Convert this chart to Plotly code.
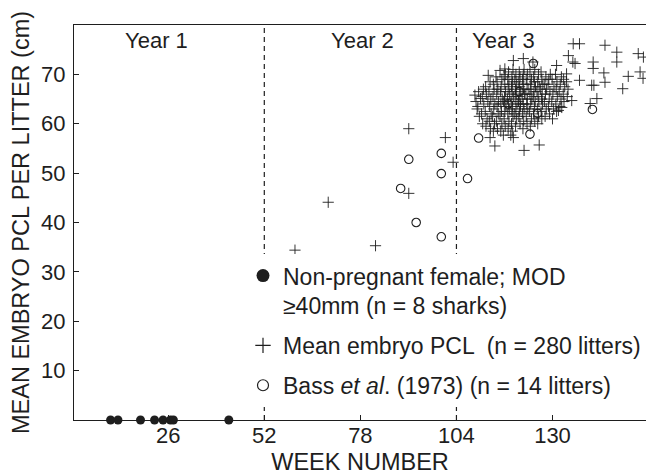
import plotly.graph_objects as go

# ---------------- data ----------------
x_ticks = [26, 52, 78, 104, 130]
y_ticks = [10, 20, 30, 40, 50, 60, 70]
year_boundaries = [52, 104]
year_labels = ["Year 1", "Year 2", "Year 3"]
year_label_weeks = [22.7, 78.7, 116.8]

# Non-pregnant females with MOD >= 40 mm (PCL plotted at 0)
nonpreg_week = [10.4, 12.4, 18.5, 22.3, 24.6, 26.6, 27.4, 42.4]
nonpreg_pcl = [0, 0, 0, 0, 0, 0, 0, 0]

# Bass et al. (1973)
bass_week = [91.1, 99.9, 99.9, 88.9, 93.1, 99.9, 107.0, 110.0, 123.9, 126.0, 124.8, 140.8, 118.0, 121.0]
bass_pcl = [52.8, 54.0, 49.9, 46.9, 40.0, 37.1, 48.9, 57.1, 57.9, 62.1, 72.2, 62.9, 64.0, 66.5]

# Mean embryo PCL - year 2 litters
emb_y2_week = [60.3, 69.3, 82.1, 91.1, 91.1, 101.0, 103.1]
emb_y2_pcl = [34.4, 44.1, 35.3, 45.9, 59.0, 57.2, 52.2]

# Mean embryo PCL - dense year 3 cluster
emb_cl_week = [
    109.3, 109.0, 109.6,
    110.2, 109.8, 110.5, 110.0,
    111.1, 110.8, 111.4, 111.0, 111.3,
    112.0, 112.3, 111.8, 112.5, 112.1, 111.9,
    113.2, 112.9, 113.4, 113.0, 113.3, 112.8, 113.1,
    114.0, 114.3, 113.8, 114.1, 114.4, 113.9, 114.2, 114.0,
    115.1, 114.8, 115.3, 115.0, 115.4, 114.9, 115.2, 115.0, 114.7,
    116.0, 116.3, 115.8, 116.2, 116.0, 116.4, 115.9, 116.1, 116.3,
    117.2, 116.9, 117.1, 117.4, 116.8, 117.0, 117.3, 117.1, 116.9, 117.2,
    118.0, 118.2, 117.9, 118.3, 118.1, 117.8, 118.4, 118.0, 118.2, 117.9, 118.1,
    119.1, 118.9, 119.3, 119.0, 119.2, 118.8, 119.4, 119.1, 118.9, 119.2, 119.0, 119.3,
    120.0, 120.3, 119.8, 120.1, 120.4, 119.9, 120.2, 120.0, 120.3, 119.8, 120.1,
    121.2, 120.9, 121.1, 121.3, 120.8, 121.0, 121.4, 121.1, 120.9, 121.2, 121.0, 121.3,
    122.0, 122.2, 121.9, 122.3, 122.1, 121.8, 122.4, 122.0, 122.2, 121.9, 122.1, 122.3,
    123.1, 122.9, 123.3, 123.0, 123.2, 122.8, 123.4, 123.1, 122.9, 123.2,
    124.0, 124.3, 123.8, 124.1, 124.4, 123.9, 124.2, 124.0, 124.3, 123.9,
    125.2, 124.9, 125.1, 125.3, 124.8, 125.0, 125.4, 125.1, 124.9, 125.2,
    126.0, 126.2, 125.9, 126.3, 126.1, 125.8, 126.4, 126.0, 126.2,
    127.1, 126.9, 127.3, 127.0, 127.2, 126.8, 127.4, 127.1, 126.9,
    128.0, 128.3, 127.8, 128.1, 128.4, 127.9, 128.2,
    129.2, 128.9, 129.1, 129.3, 128.8, 129.0, 129.4,
    130.0, 130.3, 129.8, 130.1, 130.4, 129.9,
    131.1, 130.9, 131.3, 131.0, 131.2, 130.8,
    132.0, 132.3, 131.8, 132.1, 132.4,
    133.1, 132.9, 133.3, 133.0,
    134.0, 134.2, 133.8,
]
emb_cl_pcl = [
    64.5, 65.8, 63.0,
    61.5, 63.5, 65.1, 66.5,
    60.0, 62.0, 64.0, 65.5, 67.0,
    59.5, 61.0, 62.5, 64.5, 66.0, 67.5,
    59.0, 60.5, 62.0, 63.5, 65.0, 66.5, 68.5,
    58.5, 60.0, 61.5, 63.0, 64.0, 65.5, 67.0, 68.0,
    59.0, 60.5, 62.0, 63.5, 64.5, 66.0, 67.0, 68.5, 69.5,
    58.5, 60.0, 61.5, 62.5, 64.0, 65.0, 66.5, 67.5, 69.0,
    59.5, 61.0, 62.5, 63.5, 64.5, 65.5, 66.5, 68.0, 69.5, 70.0,
    59.0, 60.5, 62.0, 63.0, 64.0, 65.0, 66.0, 67.0, 68.0, 69.0, 70.5,
    58.5, 60.0, 61.5, 62.5, 63.5, 64.5, 65.5, 66.5, 67.5, 68.5, 69.5, 71.0,
    59.5, 61.0, 62.0, 63.0, 64.0, 65.0, 66.0, 67.0, 68.0, 69.0, 70.0,
    60.0, 61.5, 62.5, 63.5, 64.5, 65.5, 66.5, 67.5, 68.5, 69.5, 70.5, 64.0,
    59.0, 60.5, 62.0, 63.0, 64.0, 65.0, 66.0, 67.0, 68.0, 69.0, 70.0, 71.0,
    60.0, 61.5, 63.0, 64.0, 65.0, 66.0, 67.0, 68.0, 69.0, 70.0,
    59.5, 61.0, 62.5, 64.0, 65.0, 66.0, 67.0, 68.0, 69.0, 70.5,
    60.5, 62.0, 63.5, 64.5, 65.5, 66.5, 67.5, 68.5, 69.5, 71.0,
    60.0, 61.5, 63.0, 64.5, 65.5, 66.5, 67.5, 68.5, 70.0,
    61.0, 62.5, 64.0, 65.0, 66.0, 67.0, 68.0, 69.0, 70.5,
    61.5, 63.0, 64.5, 66.0, 67.0, 68.0, 69.5,
    62.0, 63.5, 65.0, 66.5, 68.0, 69.0, 70.0,
    61.0, 63.0, 64.5, 66.0, 67.5, 69.0,
    62.5, 64.0, 65.5, 67.0, 68.5, 70.0,
    63.5, 65.0, 66.5, 68.0, 69.5,
    64.5, 66.0, 67.5, 69.0,
    65.5, 67.0, 68.5,
]

# Mean embryo PCL - scattered year 3 litters around the cluster
emb_sp_week = [135.6, 137.3, 144.2, 147.4, 147.4, 153.2, 154.6, 153.7, 154.5, 150.5,
               149.0, 143.9, 144.2, 141.0, 141.0, 141.2, 140.6, 142.0, 140.2, 137.3,
               135.2, 134.3, 135.5, 136.1, 133.8, 131.6, 132.5, 131.1, 126.4, 122.3,
               114.4, 113.1, 116.7, 118.7, 119.4, 119.4, 122.1, 124.7, 115.8, 117.1,
               112.6]
emb_sp_pcl = [76.2, 76.2, 75.9, 74.5, 72.5, 74.2, 73.5, 70.5, 69.2, 69.6,
              67.1, 70.3, 68.4, 72.5, 71.2, 67.8, 67.8, 65.1, 64.1, 68.8,
              64.7, 73.8, 72.5, 72.2, 70.1, 62.7, 63.3, 71.8, 55.7, 54.6,
              55.5, 57.2, 57.7, 57.7, 57.2, 72.8, 73.2, 72.5, 70.8, 71.1,
              69.8]

assert len(emb_cl_week) == len(emb_cl_pcl)
assert len(emb_sp_week) == len(emb_sp_pcl)

embryo_week = emb_y2_week + emb_cl_week + emb_sp_week
embryo_pcl = emb_y2_pcl + emb_cl_pcl + emb_sp_pcl

legend_names = [
    "Non-pregnant female; MOD<br>≥40mm (n = 8 sharks)",
    "Mean embryo PCL \u00a0(n = 280 litters)",
    "Bass <i>et al</i>. (1973) (n = 14 litters)",
]

# ---------------- figure ----------------
INK = "#1e1e1e"
FONT = "Liberation Sans, Arial, Helvetica, sans-serif"

fig = go.Figure()

fig.add_trace(go.Scatter(
    x=embryo_week, y=embryo_pcl, mode="markers", showlegend=False,
    marker=dict(symbol="cross-thin", size=8, color=INK, line=dict(color=INK, width=0.9)),
))
fig.add_trace(go.Scatter(
    x=bass_week, y=bass_pcl, mode="markers", showlegend=False,
    marker=dict(symbol="circle-open", size=8.5, color=INK, line=dict(color=INK, width=1.1)),
))
fig.add_trace(go.Scatter(
    x=nonpreg_week, y=nonpreg_pcl, mode="markers", showlegend=False, cliponaxis=False,
    marker=dict(symbol="circle", size=9, color=INK, line=dict(width=0)),
))

# legend entries
fig.add_trace(go.Scatter(
    x=[None], y=[None], mode="markers", name=legend_names[0], legendgroup="a",
    marker=dict(symbol="circle", size=13, color=INK, line=dict(width=0)),
))
fig.add_trace(go.Scatter(
    x=[None], y=[None], mode="markers", name=legend_names[1], legendgroup="b",
    marker=dict(symbol="cross-thin", size=11, color=INK, line=dict(color=INK, width=1.2)),
))
fig.add_trace(go.Scatter(
    x=[None], y=[None], mode="markers", name=legend_names[2], legendgroup="c",
    marker=dict(symbol="circle-open", size=11, color=INK, line=dict(color=INK, width=1.2)),
))

for wk in year_boundaries:
    fig.add_shape(type="line", x0=wk, x1=wk, y0=0, y1=1, xref="x", yref="paper",
                  line=dict(color=INK, width=1.2, dash="5px,4px"), layer="below")

for lbl, wk in zip(year_labels, year_label_weeks):
    fig.add_annotation(x=wk, y=0.962, xref="x", yref="paper", text=lbl, showarrow=False,
                       font=dict(size=22, color=INK, family=FONT), xanchor="center", yanchor="middle")

fig.update_layout(
    width=646, height=475,
    margin=dict(l=74, r=0, t=25, b=55),
    paper_bgcolor="white", plot_bgcolor="white",
    font=dict(family=FONT, size=22, color=INK),
    legend=dict(
        x=1.0, y=0.42, xanchor="right", yanchor="top",
        bgcolor="white", borderwidth=0, valign="top",
        font=dict(size=23, color=INK, family=FONT),
        tracegroupgap=7, itemwidth=30,
    ),
    xaxis=dict(
        range=[0.5, 155.3], tickvals=x_ticks, ticks="inside", ticklen=5, tickwidth=1,
        tickcolor=INK, showline=True, linecolor=INK, linewidth=1.3, mirror=True,
        showgrid=False, zeroline=False, ticklabelstandoff=-5,
        title=dict(text="WEEK NUMBER", font=dict(size=23.5, color=INK), standoff=8),
        tickfont=dict(size=22, color=INK),
    ),
    yaxis=dict(
        range=[0, 80], tickvals=y_ticks, ticks="inside", ticklen=5, tickwidth=1,
        tickcolor=INK, showline=True, linecolor=INK, linewidth=1.3,
        showgrid=False, zeroline=False, ticklabelstandoff=3,
        title=dict(text="MEAN EMBRYO PCL PER LITTER (cm)", font=dict(size=23.5, color=INK), standoff=4),
        tickfont=dict(size=22, color=INK),
    ),
)

fig.write_html("out.html")
